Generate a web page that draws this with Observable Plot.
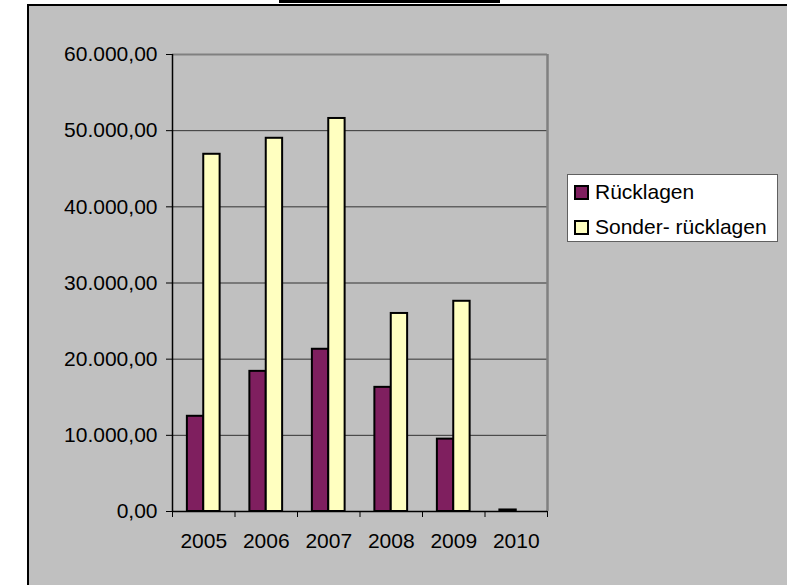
<!DOCTYPE html>
<html><head><meta charset="utf-8">
<script src="https://cdn.jsdelivr.net/npm/d3@7"></script>
<script src="https://cdn.jsdelivr.net/npm/@observablehq/plot@0.6"></script>
<style>
body{margin:0;background:#fff;}
#wrap{position:relative;width:787px;height:585px;overflow:hidden;font-family:"Liberation Sans",Arial,sans-serif;}
#bg{position:absolute;left:27px;top:4px;right:-4px;bottom:-4px;background:#c0c0c0;border-left:2px solid #000;border-top:2px solid #000;}
#topbar{position:absolute;left:279px;top:0;width:221px;height:3px;background:#000;}
#chart{position:absolute;left:0;top:0;}
#legend{position:absolute;left:567px;top:174px;width:209px;height:66px;background:#fff;border:1px solid #606060;font-size:21px;color:#000;}
.row{position:absolute;left:6px;display:flex;align-items:center;white-space:nowrap;}
.sw{width:11px;height:11px;border:2px solid #000;margin-right:6px;}
</style>
</head><body>
<div id="wrap"><div id="bg"></div><div id="topbar"></div><div id="chart"></div><div id="legend"></div></div>
<script>
const years = [2005, 2006, 2007, 2008, 2009, 2010];
const ruecklagen = [12500, 18400, 21300, 16300, 9500, 200];
const sonderruecklagen = [46900, 49000, 51600, 26000, 27600, 0];
const seriesNames = ["Rücklagen", "Sonder- rücklagen"];
const seriesColors = ["#7f1f5f", "#ffffc0"];
const yTicks = [0, 10000, 20000, 30000, 40000, 50000, 60000];

const rows = [];
years.forEach((y, i) => {
  rows.push({year: y, s: 0, value: ruecklagen[i]});
  rows.push({year: y, s: 1, value: sonderruecklagen[i]});
});
const bars = rows.filter(d => d.value > 0);
const w = 0.262;
const locale = d3.formatLocale({decimal: ",", thousands: ".", grouping: [3], currency: ["", "€"]});
const fmt = locale.format(",.2f");
const bounds = years.map(y => y - 0.5).concat([years[years.length - 1] + 0.5]);

const chart = Plot.plot({
  width: 787, height: 585,
  marginLeft: 172, marginRight: 240, marginTop: 54, marginBottom: 74,
  style: {background: "transparent", fontFamily: "'Liberation Sans', Arial, sans-serif", fontSize: "21px", color: "#000", overflow: "visible"},
  x: {type: "linear", domain: [bounds[0], bounds[bounds.length - 1]], label: null},
  y: {domain: [0, 60000], label: null},
  marks: [
    Plot.ruleY(yTicks.slice(1, -1), {stroke: "#333", strokeWidth: 1}),
    Plot.ruleY([yTicks[yTicks.length - 1]], {stroke: "#808080", strokeWidth: 2}),
    Plot.ruleX([bounds[bounds.length - 1]], {stroke: "#808080", strokeWidth: 2.5}),
    Plot.rectY(bars, {
      x1: d => d.year + (d.s === 0 ? -w : 0),
      x2: d => d.year + (d.s === 0 ? 0 : w),
      y1: 0, y2: "value",
      fill: d => seriesColors[d.s],
      stroke: "#000", strokeWidth: 2
    }),
    Plot.ruleX([bounds[0]], {stroke: "#000", strokeWidth: 1.5}),
    Plot.ruleY([0], {stroke: "#000", strokeWidth: 1.5}),
    Plot.axisY(yTicks, {tickFormat: fmt, tickSize: 6, tickPadding: 9, stroke: "#000"}),
    Plot.axisX(bounds, {tickSize: 6, tickFormat: () => "", stroke: "#000"}),
    Plot.axisX(years, {tickSize: 0, tickPadding: 22, tickFormat: d => String(d)})
  ]
});
document.getElementById("chart").appendChild(chart);

const leg = document.getElementById("legend");
seriesNames.forEach((n, i) => {
  const r = document.createElement("div");
  r.className = "row";
  r.style.top = (5 + i * 35) + "px";
  const sw = document.createElement("div");
  sw.className = "sw";
  sw.style.background = seriesColors[i];
  const t = document.createElement("span");
  t.textContent = n;
  r.appendChild(sw); r.appendChild(t);
  leg.appendChild(r);
});
</script>
</body></html>
